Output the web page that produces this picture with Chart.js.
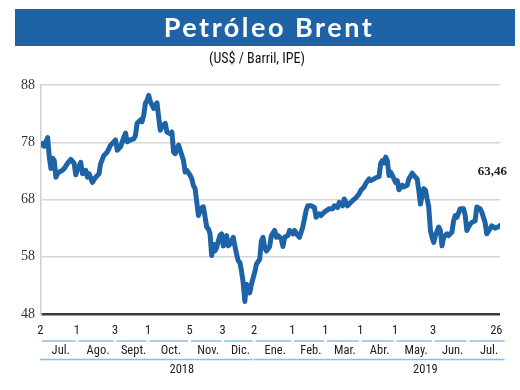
<!DOCTYPE html>
<html>
<head>
<meta charset="utf-8">
<script src="https://cdn.jsdelivr.net/npm/chart.js@4.4.1/dist/chart.umd.min.js"></script>
<style>
  html, body { margin: 0; padding: 0; background: #fff; }
  #wrap { width: 520px; height: 390px; }
</style>
</head>
<body>
<div id="wrap"><canvas id="brent" width="520" height="390"></canvas></div>
<script>
// Brent, US$/barril, sesiones desde el 2 jul 2018 (índice de día hábil)
const tradingDay = [
  0, 1, 2, 3, 4, 5, 6, 7, 8, 9, 10, 11, 13, 14, 16, 18, 20, 21, 22, 23, 24, 25, 27, 28, 29, 31, 33, 35, 36, 38,
  40, 42, 44, 45, 46, 48, 50, 51, 52, 54, 56, 57, 58, 60, 61, 62, 63, 64, 65, 66, 68, 69, 70, 71, 72, 73, 75, 76, 78, 79,
  80, 81, 83, 84, 86, 87, 88, 90, 91, 92, 93, 95, 96, 97, 98, 100, 101, 102, 103, 104, 105, 106, 107, 108, 109, 110, 112, 113, 114, 116,
  117, 118, 119, 120, 121, 122, 123, 124, 125, 126, 127, 129, 130, 132, 133, 134, 135, 136, 138, 139, 141, 142, 143, 145, 146, 147, 149, 150, 152, 153,
  155, 156, 158, 160, 161, 163, 165, 166, 168, 169, 171, 174, 176, 177, 179, 180, 182, 183, 185, 187, 188, 190, 192, 193, 195, 196, 198, 199, 201, 202,
  204, 205, 206, 207, 208, 209, 210, 211, 212, 214, 215, 216, 218, 219, 221, 222, 224, 225, 227, 228, 229, 230, 231, 232, 234, 235, 236, 237, 238, 240,
  241, 242, 243, 245, 246, 248, 249, 250, 251, 253, 255, 256, 257, 259, 260, 262, 263, 265, 266, 268, 269, 271, 272, 274, 276, 277
];
const brentPrice = [
  77.5, 77.8, 77.3, 78.1, 78.8, 75.4, 73.4, 75.2, 74.8, 71.9, 72.5, 72.8, 73.1, 73.4, 74.3, 75.0, 74.3, 72.3, 73.4, 73.8, 74.5, 72.5, 73.1, 71.9, 72.5, 71.0, 71.9, 72.5, 74.3, 75.7,
  76.3, 77.5, 78.1, 78.4, 76.6, 77.2, 78.9, 79.6, 78.1, 78.4, 78.6, 79.2, 81.3, 81.9, 81.6, 82.7, 84.8, 85.3, 86.2, 85.1, 83.9, 84.2, 84.9, 82.4, 80.1, 80.7, 81.3, 79.8, 79.5, 79.8,
  76.3, 76.0, 77.5, 76.6, 74.8, 72.8, 73.1, 72.2, 71.6, 70.4, 69.9, 65.2, 66.1, 66.6, 66.7, 63.2, 62.9, 62.0, 58.2, 60.2, 59.0, 59.6, 60.8, 61.7, 62.0, 59.9, 61.7, 59.9, 60.2, 61.4,
  59.9, 58.5, 57.3, 57.0, 55.5, 53.5, 50.2, 53.2, 52.3, 51.7, 53.2, 55.3, 56.7, 57.6, 60.8, 61.4, 59.6, 59.0, 59.8, 61.7, 62.6, 61.4, 61.7, 61.1, 59.8, 61.4, 61.7, 62.6, 62.0, 62.6,
  61.7, 61.4, 63.2, 66.1, 66.9, 66.9, 66.6, 64.9, 65.5, 65.2, 65.8, 66.4, 66.4, 66.9, 66.6, 67.5, 66.9, 68.1, 66.9, 67.5, 67.8, 68.3, 69.0, 69.6, 70.2, 70.8, 71.6, 71.3, 71.6, 71.8,
  72.0, 74.3, 74.8, 74.4, 75.4, 74.8, 72.2, 72.8, 72.2, 71.0, 71.3, 69.7, 70.5, 70.2, 70.5, 71.6, 72.6, 72.2, 71.6, 69.6, 67.2, 68.7, 69.9, 69.6, 66.7, 62.6, 61.4, 60.5, 61.7, 63.2,
  62.6, 59.9, 61.4, 62.0, 61.7, 62.3, 64.3, 65.2, 64.9, 66.4, 66.4, 65.2, 62.6, 63.7, 64.0, 64.3, 66.7, 66.4, 65.8, 64.0, 62.0, 62.9, 63.4, 63.0, 63.2, 63.46
];

const yTicks = [48, 58, 68, 78, 88];
const dayTickAt = [0, 22, 45, 65, 90, 110, 129, 152, 172, 193, 214, 237, 277];
const dayTickLabels = ['2', '1', '3', '1', '5', '3', '2', '1', '1', '1', '1', '3', '26'];
const monthStart = [0, 22, 45, 65, 90, 110, 129, 152, 172, 193, 214, 237, 258, 281];
const monthLabels = ['Jul.', 'Ago.', 'Sept.', 'Oct.', 'Nov.', 'Dic.', 'Ene.', 'Feb.', 'Mar.', 'Abr.', 'May.', 'Jun.', 'Jul.'];
const yearStart = [0, 129, 281];
const yearLabels = ['2018', '2019'];
const lastValueText = '63,46';

const narrow = "'Liberation Sans Narrow', 'Roboto Condensed', 'Arial Narrow', sans-serif";
const serif = "'Liberation Serif', 'DejaVu Serif', serif";

const decor = {
  id: 'decor',
  beforeDraw(chart) {
    const ctx = chart.ctx;
    ctx.save();
    ctx.fillStyle = '#fff';
    ctx.fillRect(0, 0, chart.width, chart.height);
    // banner
    ctx.fillStyle = '#1d63a6';
    ctx.fillRect(15, 9, 500, 37);
    ctx.fillStyle = '#fff';
    ctx.font = "bold 27px Lato, 'Open Sans', sans-serif";
    ctx.letterSpacing = '2.5px';
    ctx.textAlign = 'center';
    ctx.textBaseline = 'alphabetic';
    ctx.fillText('Petróleo Brent', 269, 37);
    ctx.letterSpacing = '0px';
    ctx.fillStyle = '#111';
    ctx.font = '14px ' + narrow;
    ctx.fillText('(US$ / Barril, IPE)', 257, 63);
    ctx.restore();
  },
  afterDraw(chart) {
    const ctx = chart.ctx;
    const xs = chart.scales.x;
    const ys = chart.scales.y;
    ctx.save();
    ctx.fillStyle = '#222';
    ctx.textBaseline = 'middle';

    // day labels
    ctx.font = '12.5px ' + narrow;
    ctx.textAlign = 'right';
    dayTickAt.forEach((d, i) => {
      ctx.fillText(dayTickLabels[i], xs.getPixelForValue(d) + 2.5, 331);
    });

    // month bars + labels
    ctx.strokeStyle = '#8cbde6';
    ctx.lineWidth = 1.5;
    ctx.textAlign = 'center';
    monthLabels.forEach((m, i) => {
      const a = xs.getPixelForValue(monthStart[i]) + 1;
      const b = xs.getPixelForValue(monthStart[i + 1]) - 2;
      ctx.beginPath();
      ctx.moveTo(a, 341);
      ctx.lineTo(b, 341);
      ctx.stroke();
      ctx.fillText(m, (a + b) / 2 + 2, 351);
    });

    // year bars + labels
    const yearLabelAt = [85, 232];
    yearLabels.forEach((yl, i) => {
      const a = xs.getPixelForValue(yearStart[i]) - 1;
      const b = xs.getPixelForValue(yearStart[i + 1]) - 2;
      ctx.beginPath();
      ctx.moveTo(a, 359.5);
      ctx.lineTo(b, 359.5);
      ctx.stroke();
      ctx.fillText(yl, xs.getPixelForValue(yearLabelAt[i]), 369.5);
    });

    // last value
    const n = tradingDay.length - 1;
    ctx.font = 'bold 13px ' + serif;
    ctx.textAlign = 'right';
    ctx.fillText(lastValueText, xs.getPixelForValue(tradingDay[n]) + 7, ys.getPixelForValue(brentPrice[n]) - 54);
    ctx.restore();
  }
};

new Chart(document.getElementById('brent'), {
  type: 'line',
  data: {
    datasets: [{
      label: 'Brent',
      data: tradingDay.map((d, i) => ({ x: d, y: brentPrice[i] })),
      borderColor: '#1e63a8',
      borderWidth: 5,
      borderJoinStyle: 'round',
      borderCapStyle: 'round',
      pointRadius: 0,
      tension: 0,
      fill: false
    }]
  },
  options: {
    responsive: false,
    animation: false,
    events: [],
    layout: { padding: { top: 85, right: 20, bottom: 76, left: 0 } },
    plugins: { legend: { display: false }, tooltip: { enabled: false } },
    scales: {
      x: { type: 'linear', min: 0, max: 277, display: false },
      y: {
        min: 48,
        max: 88,
        afterFit(s) { s.width = 41; },
        afterBuildTicks(s) { s.ticks = yTicks.map(v => ({ value: v })); },
        ticks: { padding: 6, color: '#333', font: { family: serif, size: 14 } },
        grid: {
          drawTicks: false,
          color: c => c.tick && c.tick.value === 48 ? '#3a3a3a' : '#d6d6d6',
          lineWidth: c => c.tick && c.tick.value === 48 ? 2.5 : 1.5
        },
        border: { display: true, color: '#d0d0d0', width: 1.5 }
      }
    }
  },
  plugins: [decor]
});
</script>
</body>
</html>
